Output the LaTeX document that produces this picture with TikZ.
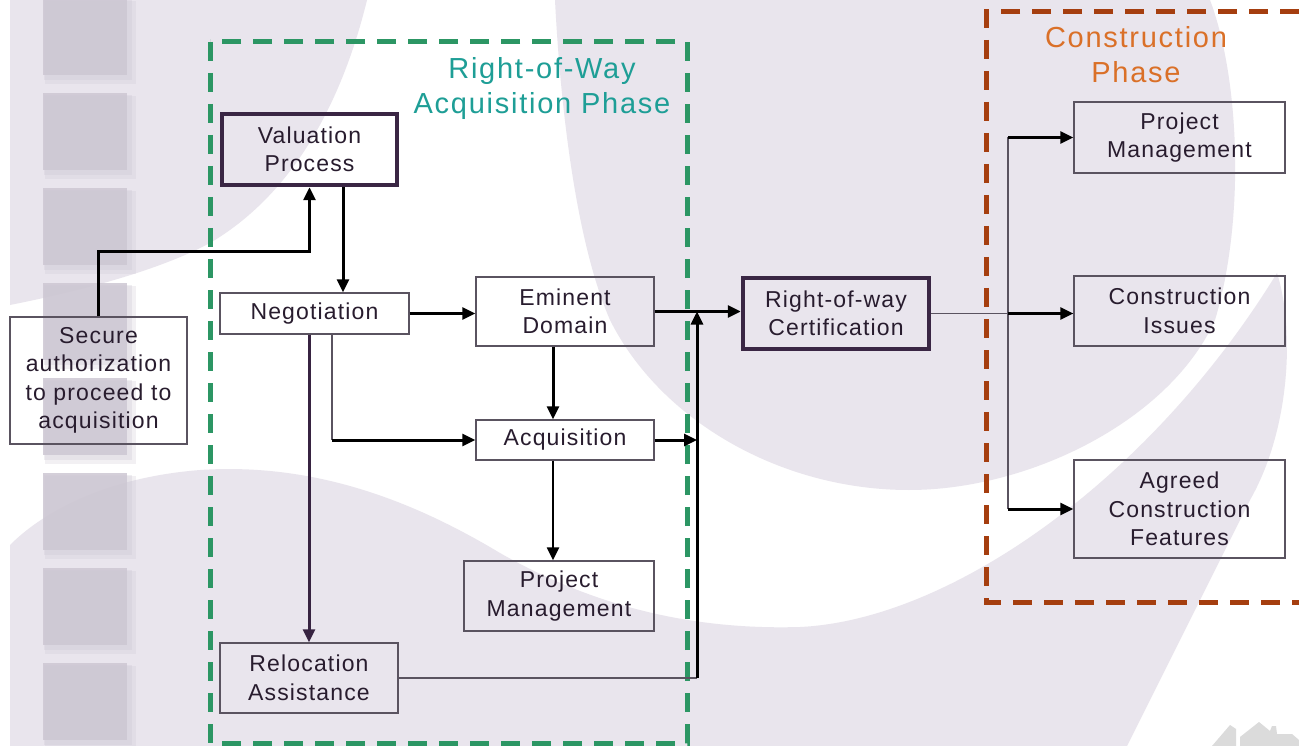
\documentclass[tikz,border=0pt]{standalone}
\usepackage{fontspec}
\setmainfont{Liberation Sans}
\newfontfamily\boxfont[LetterSpace=5]{Liberation Sans}
\newfontfamily\titlefont[LetterSpace=6]{Liberation Sans}
\usetikzlibrary{arrows.meta}
\definecolor{lav}{RGB}{233,229,237}
\definecolor{sqc}{RGB}{205,199,211}
\definecolor{txt}{RGB}{40,28,46}
\definecolor{boxc}{RGB}{90,83,96}
\definecolor{thickc}{RGB}{58,38,68}
\definecolor{grn}{RGB}{44,150,100}
\definecolor{brn}{RGB}{165,62,15}
\definecolor{ttl}{RGB}{30,158,150}
\definecolor{org}{RGB}{218,112,40}
\definecolor{plum}{RGB}{55,35,65}
\begin{document}
\begin{tikzpicture}[x=1pt,y=-1pt,
  box/.style={draw=boxc, line width=1.4pt, inner sep=0pt, align=center, text=txt,
    font=\boxfont\fontsize{23}{28.5}\selectfont},
  tbox/.style={box, draw=thickc, line width=4.5pt},
  titlestyle/.style={inner sep=0pt, align=center, font=\titlefont\fontsize{29}{35}\selectfont},
  arr/.style={line width=3pt, draw=black, -{Triangle[length=13pt,width=12pt]}},
  thinline/.style={line width=1.5pt, draw=boxc},
  frame/.style={line width=5pt, dash pattern=on 19pt off 12pt}]
\useasboundingbox (0,0) rectangle (1299,746);
\clip (0,0) rectangle (1299,746);
% background
\fill[white] (0,0) rectangle (1299,746);
\fill[lav] (10,0) -- (367,0) .. controls (345,90) and (300,190) .. (210,243)
  .. controls (150,275) and (60,295) .. (10,305) -- cycle;
\fill[lav] (555,0) -- (1210,0) .. controls (1240,80) and (1245,220) .. (1215,320)
  .. controls (1170,420) and (1030,490) .. (909,490)
  .. controls (780,490) and (660,420) .. (610,320)
  .. controls (575,240) and (560,100) .. (555,0) -- cycle;
\fill[lav] (10,545) .. controls (40,515) and (100,478) .. (200,470)
  .. controls (320,462) and (420,505) .. (500,553)
  .. controls (600,610) and (700,630) .. (800,627)
  .. controls (950,620) and (1150,480) .. (1277,273)
  .. controls (1295,330) and (1290,430) .. (1250,500)
  .. controls (1200,600) and (1150,700) .. (1127,746) -- (10,746) -- cycle;
% left strip squares
\foreach \t in {-2,93,188,283,378,473,568,663}{
  \fill[sqc, opacity=0.25] (45,\t+3) rectangle (136,\t+86);
  \fill[sqc, opacity=0.3] (44,\t+2) rectangle (132,\t+82);
  \fill[sqc, opacity=0.85] (43,\t) rectangle (127,\t+77);
}
% navigation icons
\fill[gray!28] (1212,746) -- (1230,725) -- (1236,729) -- (1236,746) -- cycle;
\fill[gray!28] (1240,746) -- (1240,737) -- (1259,722) -- (1270,731) -- (1272,726) -- (1276,726) -- (1277,734) -- (1292,734) -- (1299,740) -- (1299,746) -- cycle;
% phase frames
\draw[frame, grn] (210,42) rectangle (687,743);
\draw[frame, brn] (1330,12) -- (986,12) -- (986,602) -- (1330,602);
\node[titlestyle, text=ttl] (t1) at (542,89) {Right-of-Way\\Acquisition Phase};
\node[titlestyle, text=org] (t2) at (1136,55) {Construction\\Phase};
% nodes
\node[box, minimum width=177pt, minimum height=127pt] (sec) at (98.5,380.5) {Secure\\authorization\\to proceed to\\acquisition};
\node[tbox, minimum width=175pt, minimum height=71pt] (val) at (309.5,149.5) {Valuation\\Process};
\node[box, minimum width=189pt, minimum height=41pt] (neg) at (314.5,313.5) {Negotiation};
\node[box, minimum width=178pt, minimum height=69pt] (em) at (565,311.5) {Eminent\\Domain};
\node[box, minimum width=178pt, minimum height=40pt] (acq) at (565,440) {Acquisition};
\node[box, minimum width=190pt, minimum height=70pt] (pma) at (559,596) {Project\\Management};
\node[box, minimum width=178pt, minimum height=70pt] (rel) at (309,678) {Relocation\\Assistance};
\node[tbox, minimum width=186pt, minimum height=71pt] (row) at (836,313.5) {Right-of-way\\Certification};
\node[box, minimum width=211pt, minimum height=71pt] (pmb) at (1179.5,137.5) {Project\\Management};
\node[box, minimum width=211pt, minimum height=70pt] (ci) at (1179.5,311) {Construction\\Issues};
\node[box, minimum width=211pt, minimum height=98pt] (acf) at (1179.5,509) {Agreed\\Construction\\Features};
% helper coordinates
\coordinate (bx) at (697,0);
\coordinate (cb) at (1008,0);
\coordinate (na) at ([xshift=17.5pt]neg.south |- acq.west);
% connectors
\draw[arr] (sec.north) -- ++(0,-65) -| (val.south);
\draw[arr] ([xshift=33.5pt]val.south) -- ([xshift=33.5pt]val.south |- neg.north);
\draw[arr] (neg.east) -- (neg.east -| em.west);
\draw[thinline] ([xshift=17.5pt]neg.south) -- (na);
\draw[arr] (na) -- (acq.west);
\draw[line width=3pt, draw=plum, -{Triangle[length=13pt,width=12pt]}] (rel.north |- neg.south) -- (rel.north);
\draw[arr] ([xshift=-12pt]em.south) -- ([xshift=-12pt]em.south |- acq.north);
\draw[arr, line width=2.4pt] ([xshift=-6pt]pma.north |- acq.south) -- ([xshift=-6pt]pma.north);
\draw[arr] (em.east) -- (em.east -| row.west);
\draw[arr] (acq.east) -- (acq.east -| bx);
\draw[thinline] (rel.east) -- (rel.east -| bx);
\draw[arr] (rel.east -| bx) -- (em.east -| bx);
\draw[thinline] (row.east) -- (row.east -| ci.west);
\draw[thinline] (pmb.west -| cb) -- (acf.west -| cb);
\draw[arr] (row.east -| cb) -- (row.east -| ci.west);
\draw[arr] (pmb.west -| cb) -- (pmb.west);
\draw[arr] (acf.west -| cb) -- (acf.west);
\end{tikzpicture}
\end{document}
